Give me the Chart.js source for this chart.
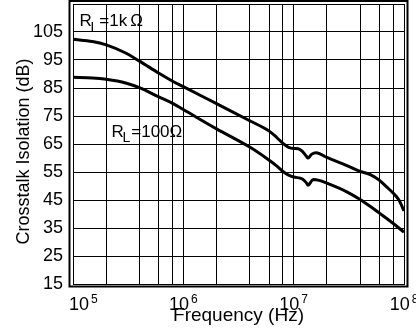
<!DOCTYPE html>
<html>
<head>
<meta charset="utf-8">
<script src="https://cdn.jsdelivr.net/npm/chart.js@4.4.0/dist/chart.umd.min.js"></script>
<style>
  html, body { margin: 0; padding: 0; background: #fff; }
  canvas { display: block; }
</style>
</head>
<body>
<canvas id="chart" width="416" height="329"></canvas>
<script>
const FONT = '"Liberation Sans", Arial, sans-serif'

// R_L = 1k curve
const freq1k = [1e5, 1.5e5, 2e5, 3e5, 4e5, 6e5, 8e5, 1e6, 2e6, 4e6, 6e6, 7e6, 8e6, 9e6,
  1e7, 1.1e7, 1.2e7, 1.3e7, 1.35e7, 1.45e7, 1.6e7, 2e7, 3e7, 4e7, 5e7, 6e7, 7e7, 8e7, 9e7, 1e8]
const iso1k = [102.4, 101.6, 100.4, 97.5, 94.6, 90.3, 87.4, 85.5, 79.4, 73.3, 69.6, 67.4, 65.2, 63.8,
  63.4, 63.3, 62.4, 60.7, 60.0, 61.3, 61.9, 60.2, 57.4, 55.2, 54.0, 52.0, 49.6, 47.4, 45.0, 41.1]

// R_L = 100 curve
const freq100 = [1e5, 1.5e5, 2e5, 3e5, 4e5, 6e5, 8e5, 1e6, 2e6, 4e6, 6e6, 7e6, 8e6, 9e6,
  1e7, 1.2e7, 1.3e7, 1.35e7, 1.5e7, 1.7e7, 2e7, 3e7, 4e7, 5e7, 6e7, 8e7, 1e8]
const iso100 = [88.8, 88.6, 88.1, 86.8, 85.1, 81.8, 79.5, 77.3, 70.4, 63.9, 59.2, 57.2, 55.2, 53.9,
  53.2, 52.5, 51.2, 50.3, 52.3, 52.0, 51.0, 48.0, 45.2, 42.6, 40.3, 36.6, 33.5]

// grid lines at 1, 2, 4, 6, 8 of each decade
const xGrid = [1e5, 2e5, 4e5, 6e5, 8e5, 1e6, 2e6, 4e6, 6e6, 8e6, 1e7, 2e7, 4e7, 6e7, 8e7, 1e8]
const xDecades = [5, 6, 7, 8]
const yTicks = [15, 25, 35, 45, 55, 65, 75, 85, 95, 105, 115]
const yLabels = ['15', '25', '35', '45', '55', '65', '75', '85', '95', '105', '']

const toPoints = (xs, ys) => xs.map((x, i) => ({ x, y: ys[i] }))

function drawRL(ctx, x, y, parts) {
  ctx.font = '17px ' + FONT
  ctx.fillText('R', x, y)
  let cx = x + 11
  ctx.font = '14px ' + FONT
  ctx.fillText('L', cx, y + 5.5)
  cx += ctx.measureText('L').width + 1
  ctx.font = '17px ' + FONT
  parts.forEach(p => {
    ctx.fillText(p, cx, y)
    cx += ctx.measureText(p).width + 3
  })
}

const decorations = {
  id: 'decorations',
  afterDraw(chart) {
    const { ctx, chartArea: a, scales: { x } } = chart
    ctx.save()
    // heavy outer frame
    ctx.strokeStyle = '#000'
    ctx.lineWidth = 2
    ctx.strokeRect(a.left - 3.5, a.top - 3, a.right - a.left + 7, a.bottom - a.top + 5.5)

    // x tick labels with superscript exponents
    ctx.fillStyle = '#000'
    ctx.textAlign = 'left'
    ctx.textBaseline = 'alphabetic'
    xDecades.forEach((e, i) => {
      const px = x.getPixelForValue(Math.pow(10, e))
      ctx.font = '18px ' + FONT
      const wBase = ctx.measureText('10').width
      ctx.font = '12px ' + FONT
      const wExp = ctx.measureText(String(e)).width
      let left = px - (wBase + 2 + wExp) / 2
      if (i === 0) left = px - 4
      ctx.font = '18px ' + FONT
      ctx.fillText('10', left, 310)
      ctx.font = '12px ' + FONT
      ctx.fillText(String(e), left + wBase + 2, 303)
    })

    // curve labels
    drawRL(ctx, 79.5, 26, ['=1k', 'Ω'])
    drawRL(ctx, 111.5, 136.5, ['=100Ω'])
    ctx.restore()
  }
}

const ctx = document.getElementById('chart')
new Chart(ctx, {
  type: 'line',
  data: {
    datasets: [{
      label: 'RL=1kΩ',
      data: toPoints(freq1k, iso1k),
      borderColor: '#000',
      borderWidth: 3,
      pointRadius: 0,
      cubicInterpolationMode: 'monotone'
    }, {
      label: 'RL=100Ω',
      data: toPoints(freq100, iso100),
      borderColor: '#000',
      borderWidth: 3,
      pointRadius: 0,
      cubicInterpolationMode: 'monotone'
    }]
  },
  options: {
    responsive: false,
    devicePixelRatio: 1,
    animation: false,
    layout: { padding: { top: 4, right: 12, left: 0, bottom: 0 } },
    plugins: {
      legend: { display: false },
      tooltip: { enabled: false }
    },
    scales: {
      x: {
        type: 'logarithmic',
        min: 1e5,
        max: 1e8,
        afterBuildTicks: s => { s.ticks = xGrid.map(v => ({ value: v })) },
        afterFit: s => { s.height = 45; s.paddingLeft = 0; s.paddingRight = 0 },
        grid: { color: '#000', lineWidth: 1, drawTicks: false },
        border: { color: '#000', width: 1 },
        ticks: { display: false },
        title: {
          display: true,
          text: 'Frequency (Hz)',
          color: '#000',
          font: { family: FONT, size: 19 },
          padding: { top: 0, bottom: 2 }
        }
      },
      y: {
        min: 15,
        max: 115,
        afterBuildTicks: s => { s.ticks = yTicks.map(v => ({ value: v })) },
        afterFit: s => { s.width = 73; s.paddingTop = 0; s.paddingBottom = 0 },
        grid: { color: '#000', lineWidth: 1, drawTicks: false },
        border: { color: '#000', width: 1 },
        ticks: {
          color: '#000',
          padding: 10,
          font: { family: FONT, size: 18 },
          callback: (v, i) => yLabels[i]
        },
        title: {
          display: true,
          // trailing spaces nudge the rotated title down a little, like the original
          text: 'Crosstalk Isolation (dB)   ',
          color: '#000',
          font: { family: FONT, size: 18 },
          padding: { top: 13.5, bottom: 0 }
        }
      }
    }
  },
  plugins: [decorations]
})
</script>
</body>
</html>
